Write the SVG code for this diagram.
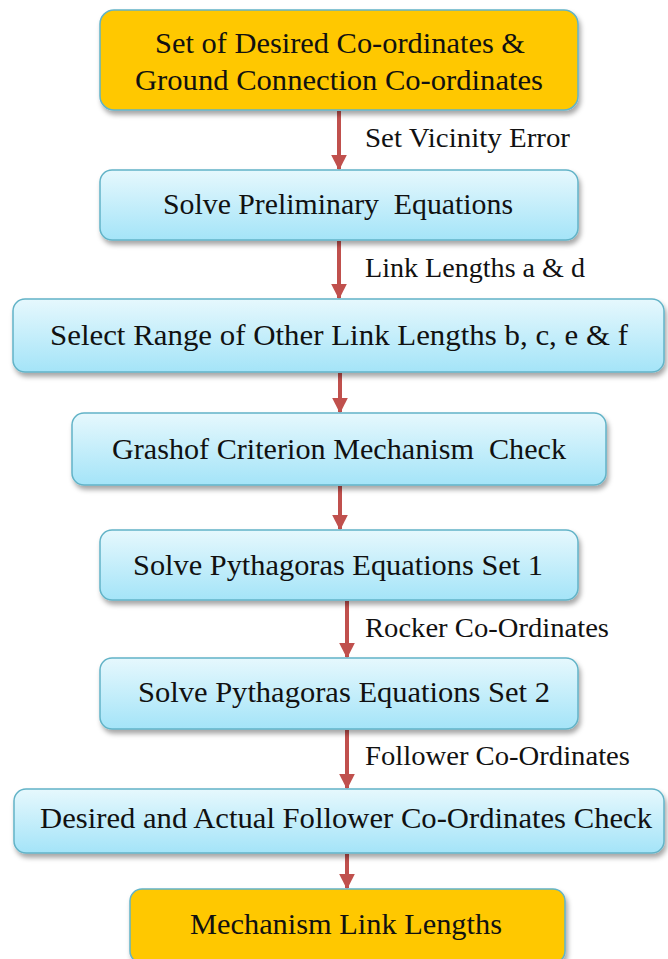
<svg xmlns="http://www.w3.org/2000/svg" width="668" height="959" viewBox="0 0 668 959">
  <defs>
    <linearGradient id="blueFill" x1="0" y1="0" x2="0" y2="1">
      <stop offset="0" stop-color="#E6F8FD"/>
      <stop offset="1" stop-color="#A4E4F8"/>
    </linearGradient>
    <filter id="shadow" x="-10%" y="-20%" width="120%" height="150%">
      <feDropShadow dx="2" dy="4" stdDeviation="2.5" flood-color="#000" flood-opacity="0.35"/>
    </filter>
    <marker id="arrow" viewBox="0 0 10 10" refX="9" refY="5" markerWidth="4" markerHeight="4" markerUnits="strokeWidth" orient="auto">
      <path d="M0,0 L10,5 L0,10 z" fill="#C0504D"/>
    </marker>
  </defs>
  <style>
    .box { stroke: #62B3C7; stroke-width: 1.5; filter: url(#shadow); }
    .gold { fill: #FFC800; }
    .blue { fill: url(#blueFill); }
    .t { font-family: "Liberation Serif", "Times New Roman", serif; font-size: 29px; fill: #111; text-anchor: middle; white-space: pre; }
    .lbl { font-family: "Liberation Serif", "Times New Roman", serif; font-size: 27px; fill: #111; white-space: pre; }
    .conn { stroke: #C0504D; stroke-width: 4; fill: none; marker-end: url(#arrow); }
  </style>
  <rect width="668" height="959" fill="#fff"/>

  <g id="connectors">
    <line class="conn" x1="339" y1="111" x2="339" y2="169"/>
    <line class="conn" x1="339" y1="241" x2="339" y2="298"/>
    <line class="conn" x1="340" y1="373" x2="340" y2="412"/>
    <line class="conn" x1="340" y1="486" x2="340" y2="529"/>
    <line class="conn" x1="347" y1="601" x2="347" y2="657"/>
    <line class="conn" x1="347" y1="730" x2="347" y2="788"/>
    <line class="conn" x1="347" y1="854" x2="347" y2="888"/>
    <text class="lbl" x="365" y="147" textLength="205" lengthAdjust="spacingAndGlyphs">Set Vicinity Error</text>
    <text class="lbl" x="365" y="277" textLength="220" lengthAdjust="spacingAndGlyphs">Link Lengths a &amp; d</text>
    <text class="lbl" x="365" y="637" textLength="244" lengthAdjust="spacingAndGlyphs">Rocker Co-Ordinates</text>
    <text class="lbl" x="365" y="765" textLength="265" lengthAdjust="spacingAndGlyphs">Follower Co-Ordinates</text>
  </g>

  <g id="n1">
    <rect class="box gold" x="100" y="10" width="478" height="100" rx="14"/>
    <text class="t" x="340" y="53" textLength="370" lengthAdjust="spacingAndGlyphs">Set of Desired Co-ordinates &amp;</text>
    <text class="t" x="339" y="90" textLength="408" lengthAdjust="spacingAndGlyphs">Ground Connection Co-ordinates</text>
  </g>
  <g id="n2">
    <rect class="box blue" x="100" y="170" width="478" height="70" rx="12"/>
    <text class="t" x="338" y="214" textLength="350" lengthAdjust="spacingAndGlyphs">Solve Preliminary  Equations</text>
  </g>
  <g id="n3">
    <rect class="box blue" x="13" y="299" width="651" height="73" rx="12"/>
    <text class="t" x="339" y="345" textLength="578" lengthAdjust="spacingAndGlyphs">Select Range of Other Link Lengths b, c, e &amp; f</text>
  </g>
  <g id="n4">
    <rect class="box blue" x="72" y="413" width="534" height="72" rx="12"/>
    <text class="t" x="339" y="459" textLength="454" lengthAdjust="spacingAndGlyphs">Grashof Criterion Mechanism  Check</text>
  </g>
  <g id="n5">
    <rect class="box blue" x="100" y="530" width="478" height="70" rx="12"/>
    <text class="t" x="338" y="575" textLength="410" lengthAdjust="spacingAndGlyphs">Solve Pythagoras Equations Set 1</text>
  </g>
  <g id="n6">
    <rect class="box blue" x="100" y="658" width="478" height="71" rx="12"/>
    <text class="t" x="344" y="702" textLength="412" lengthAdjust="spacingAndGlyphs">Solve Pythagoras Equations Set 2</text>
  </g>
  <g id="n7">
    <rect class="box blue" x="14" y="789" width="650" height="64" rx="12"/>
    <text class="t" x="346" y="828" textLength="612" lengthAdjust="spacingAndGlyphs">Desired and Actual Follower Co-Ordinates Check</text>
  </g>
  <g id="n8">
    <rect class="box gold" x="130" y="889" width="435" height="74" rx="12"/>
    <text class="t" x="346" y="934" textLength="312" lengthAdjust="spacingAndGlyphs">Mechanism Link Lengths</text>
  </g>
</svg>
